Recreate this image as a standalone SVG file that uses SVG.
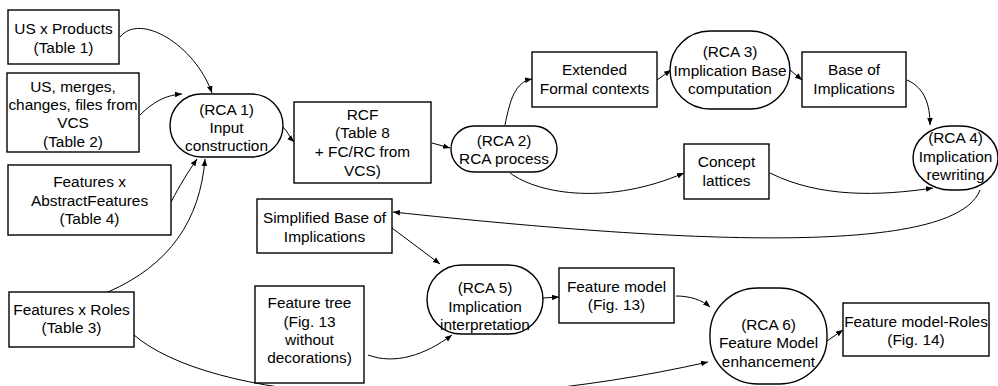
<svg xmlns="http://www.w3.org/2000/svg" width="998" height="386" viewBox="0 0 998 386">
<defs>
<style>
.n rect{fill:#fff;stroke:#000;stroke-width:1.4}
.n text{font-family:"Liberation Sans",Arial,sans-serif;font-size:15.4px;fill:#000;text-anchor:middle}
.c path{fill:none;stroke:#000;stroke-width:1;marker-end:url(#a)}
</style>
<marker id="a" viewBox="0 0 10 10" refX="10" refY="5" markerWidth="7" markerHeight="7" orient="auto" markerUnits="userSpaceOnUse">
<path d="M0,1 L10,5 L0,9 z" fill="#000"/>
</marker>
</defs>
<rect width="998" height="386" fill="#fff"/>
<g class="c">
<path d="M120,37 C140,12 195,45 212,93"/>
<path d="M140,115 C155,100 168,95 182,94"/>
<path d="M171,202 C180,185 188,172 197,159"/>
<path d="M108,292 C170,265 200,220 205,159"/>
<path d="M283,127 C288,132 290,138 294,142"/>
<path d="M432,143 L450,148"/>
<path d="M505,125 C510,100 515,82 532,79"/>
<path d="M510,173 C540,195 610,205 684,173"/>
<path d="M657,80 L671,70"/>
<path d="M790,70 L802,80"/>
<path d="M907,80 C925,88 930,105 930,125"/>
<path d="M770,173 C820,198 880,196 933,188"/>
<path d="M980,190 C955,255 700,245 393,212"/>
<path d="M392,228 L440,264"/>
<path d="M368,355 C395,365 425,355 452,335"/>
<path d="M543,298 L559,297"/>
<path d="M676,296 C690,296 702,300 710,307"/>
<path d="M134,335 C210,400 450,420 708,362"/>
<path d="M827,341 L843,330"/>
</g>
<g id="us-products" class="n"><rect x="8" y="10" width="111" height="54"/><text x="63.5" y="34">US x Products</text><text x="63.5" y="53">(Table 1)</text></g>
<g id="us-merges" class="n"><rect x="7" y="73" width="132" height="79"/><text x="73" y="92">US, merges,</text><text x="73" y="110">changes, files from</text><text x="73" y="128">VCS</text><text x="73" y="147">(Table 2)</text></g>
<g id="features-abstract" class="n"><rect x="8" y="165" width="163" height="70"/><text x="89.5" y="187">Features x</text><text x="89.5" y="206">AbstractFeatures</text><text x="89.5" y="224">(Table 4)</text></g>
<g id="features-roles" class="n"><rect x="9" y="292" width="125" height="55"/><text x="71.5" y="315">Features x Roles</text><text x="71.5" y="333">(Table 3)</text></g>
<g id="rca1" class="n"><rect x="170" y="94" width="113" height="63" rx="31.5" ry="31.5"/><text x="226.5" y="115">(RCA 1)</text><text x="226.5" y="133">Input</text><text x="226.5" y="151">construction</text></g>
<g id="rcf" class="n"><rect x="294" y="102" width="137" height="81"/><text x="362.5" y="120">RCF</text><text x="362.5" y="138">(Table 8</text><text x="362.5" y="157">+ FC/RC from</text><text x="362.5" y="176">VCS)</text></g>
<g id="rca2" class="n"><rect x="451" y="126" width="106" height="46" rx="23" ry="23"/><text x="504" y="146">(RCA 2)</text><text x="504" y="164">RCA process</text></g>
<g id="extended" class="n"><rect x="532" y="52" width="125" height="55"/><text x="594.5" y="75">Extended</text><text x="594.5" y="94">Formal contexts</text></g>
<g id="rca3" class="n"><rect x="670" y="31" width="120" height="78" rx="40" ry="39"/><text x="730" y="57">(RCA 3)</text><text x="730" y="76">Implication Base</text><text x="730" y="94">computation</text></g>
<g id="base" class="n"><rect x="802" y="52" width="104" height="55"/><text x="854" y="75">Base of</text><text x="854" y="94">Implications</text></g>
<g id="rca4" class="n"><rect x="913" y="126" width="85" height="64" rx="38" ry="32"/><text x="955.5" y="143">(RCA 4)</text><text x="955.5" y="162">Implication</text><text x="955.5" y="180">rewriting</text></g>
<g id="lattices" class="n"><rect x="684" y="144" width="85" height="55"/><text x="726.5" y="167">Concept</text><text x="726.5" y="186">lattices</text></g>
<g id="simplified" class="n"><rect x="257" y="199" width="135" height="54"/><text x="324.5" y="223">Simplified Base of</text><text x="324.5" y="242">Implications</text></g>
<g id="feature-tree" class="n"><rect x="255" y="286" width="109" height="97"/><text x="309.5" y="308">Feature tree</text><text x="309.5" y="327">(Fig. 13</text><text x="309.5" y="345">without</text><text x="309.5" y="363">decorations)</text></g>
<g id="rca5" class="n"><rect x="427" y="265" width="116" height="69" rx="34.5" ry="34.5"/><text x="485" y="293">(RCA 5)</text><text x="485" y="312">Implication</text><text x="485" y="330">interpretation</text></g>
<g id="feature-model" class="n"><rect x="559" y="268" width="115" height="55"/><text x="616.5" y="292">Feature model</text><text x="616.5" y="310">(Fig. 13)</text></g>
<g id="rca6" class="n"><rect x="710" y="288" width="117" height="96" rx="48" ry="46"/><text x="768.5" y="330">(RCA 6)</text><text x="768.5" y="348">Feature Model</text><text x="768.5" y="367">enhancement</text></g>
<g id="feature-model-roles" class="n"><rect x="843" y="303" width="146" height="53"/><text x="916" y="327">Feature model-Roles</text><text x="916" y="345">(Fig. 14)</text></g>
</svg>
